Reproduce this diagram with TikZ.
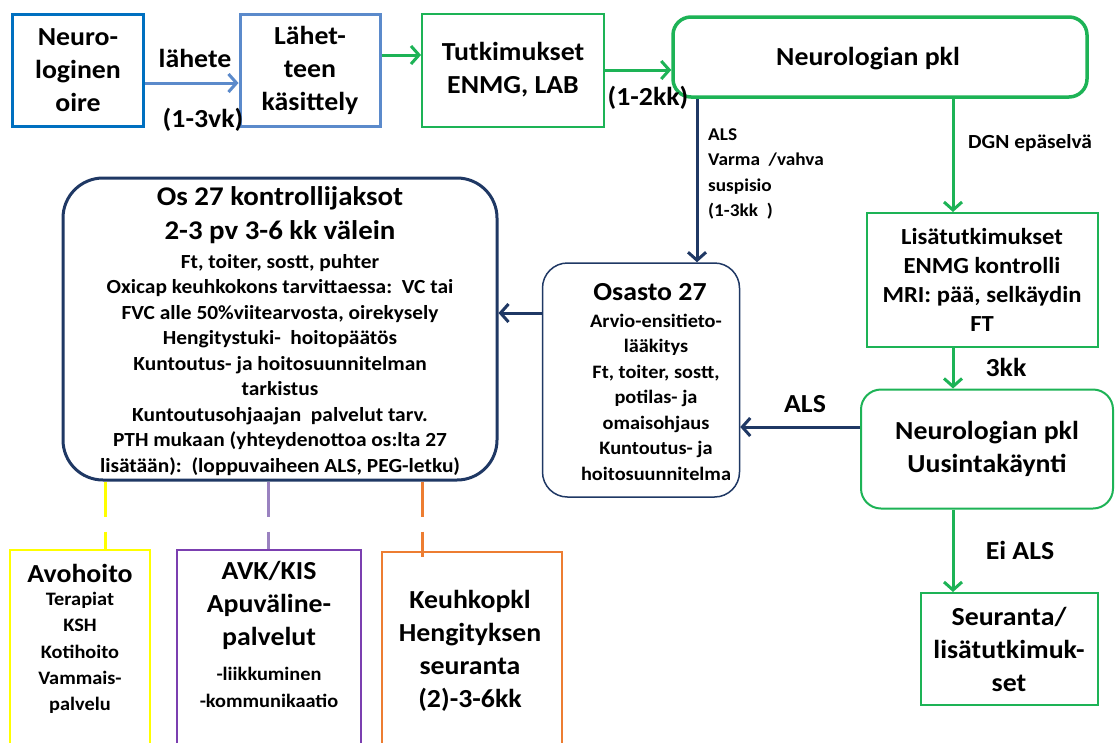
\documentclass[tikz,border=0pt]{standalone}
\usepackage{fontspec}
\setmainfont{Carlito}[FakeStretch=1.07]
\usetikzlibrary{arrows.meta}
\definecolor{cblueA}{HTML}{0070C0}
\definecolor{cblueB}{HTML}{5B8ACB}
\definecolor{cgreen}{HTML}{1DB356}
\definecolor{cnavy}{HTML}{1F3864}
\definecolor{cyel}{HTML}{FFFF00}
\definecolor{cpurp}{HTML}{7B3FB0}
\definecolor{cpurpl}{HTML}{9A82C0}
\definecolor{corange}{HTML}{ED7D31}
\newcommand{\myBig}{\bfseries\fontsize{26}{33}\selectfont}
\newcommand{\myMid}{\bfseries\fontsize{23}{29}\selectfont}
\newcommand{\mySmall}{\bfseries\fontsize{20}{25.5}\selectfont}
\begin{document}
\begin{tikzpicture}[x=1pt,y=-1pt,
  box/.style={draw, align=center, inner sep=0pt, text=black},
  txt/.style={align=center, inner sep=0pt, text=black},
  arr/.style={line width=3pt, -{Straight Barb[length=8pt,width=18pt]}},
  dsh/.style={line width=3pt, dash pattern=on 35pt off 15pt}]
\fill[white] (0,0) rectangle (1115,742);
\clip (0,0) rectangle (1115,742);
% top row
\node[box, draw=cblueA, line width=3pt, minimum width=131pt, minimum height=112pt, font=\myBig] (n1) at (78,70) {Neuro-\\loginen\\oire};
\node[box, draw=cblueB, line width=3pt, minimum width=140pt, minimum height=112pt, font=\myBig] (n2) at (310,70) {Lähet-\\teen\\käsittely};
\node[box, draw=cgreen, line width=2pt, minimum width=182pt, minimum height=113pt, font=\myBig] (n3) at (513,70) {Tutkimukset\\ENMG, LAB};
\node[box, draw=cgreen, line width=3.5pt, rounded corners=18pt, minimum width=414pt, minimum height=80pt] (n4) at (880,57) {};
\node[txt, font=\myBig] (n4t) at (868,59) {Neurologian pkl};
% right column
\node[box, draw=cgreen, line width=2pt, minimum width=231pt, minimum height=134pt, font=\myMid] (n5) at (982,280) {Lisätutkimukset\\ENMG kontrolli\\MRI: pää, selkäydin\\FT};
\node[box, draw=cgreen, line width=2pt, rounded corners=20pt, minimum width=252pt, minimum height=119pt, font=\myBig] (n6) at (987,449) {Neurologian pkl\\Uusintakäynti};
\node[box, draw=cgreen, line width=2pt, minimum width=177pt, minimum height=112pt, font=\myBig] (n7) at (1009,649) {Seuranta/\\lisätutkimuk-\\set};
% Osasto 27
\node[box, draw=cnavy, line width=1.5pt, rounded corners=25pt, minimum width=197pt, minimum height=234pt] (n8) at (641,380) {};
\node[txt, font=\myBig] (n8a) at (650,292) {Osasto 27};
\node[txt, font=\bfseries\fontsize{19}{25.5}\selectfont] (n8b) at (656,397) {Arvio-ensitieto-\\lääkitys\\Ft, toiter, sostt,\\potilas- ja\\omaisohjaus\\Kuntoutus- ja\\hoitosuunnitelma};
% Os 27 kontrollijaksot
\node[box, draw=cnavy, line width=3pt, rounded corners=40pt, minimum width=434pt, minimum height=302pt] (n9) at (280,329) {};
\node[txt, font=\bfseries\fontsize{27}{34}\selectfont] (n9a) at (280,215) {Os 27 kontrollijaksot\\2-3 pv 3-6 kk välein};
\node[txt, font=\mySmall] (n9b) at (280,365) {Ft, toiter, sostt, puhter\\Oxicap keuhkokons tarvittaessa:\ \ VC tai\\FVC alle 50\%viitearvosta,\ oirekysely\\Hengitystuki-\ \ hoitopäätös\\Kuntoutus- ja hoitosuunnitelman\\tarkistus\\Kuntoutusohjaajan\ \ palvelut tarv.\\PTH mukaan\ (yhteydenottoa os:lta 27\\lisätään):\ \ (loppuvaiheen ALS, PEG-letku)};
% bottom boxes
\node[box, draw=cyel, line width=2pt, minimum width=140pt, minimum height=200pt] (n10) at (80,650) {};
\node[txt, font=\myBig] (n10a) at (80,573) {Avohoito};
\node[txt, font=\bfseries\fontsize{19}{26.2}\selectfont] (n10b) at (80,653) {Terapiat\\KSH\\Kotihoito\\Vammais-\\palvelu};
\node[box, draw=cpurp, line width=2pt, minimum width=184pt, minimum height=200pt] (n11) at (269,650) {};
\node[txt, font=\myBig] (n11a) at (269,605) {AVK/KIS\\Apuväline-\\palvelut};
\node[txt, font=\bfseries\fontsize{19}{27}\selectfont] (n11b) at (269,687) {-liikkuminen\\-kommunikaatio};
\node[box, draw=corange, line width=2pt, minimum width=180pt, minimum height=200pt] (n12) at (472,652) {};
\node[txt, font=\myBig] (n12a) at (470,651) {Keuhkopkl\\Hengityksen\\seuranta\\(2)-3-6kk};
% helper coordinates
\coordinate (h55) at (0,55);
\coordinate (h70) at (0,70);
\coordinate (h83) at (0,83);
\coordinate (h313) at (0,313);
\coordinate (h427) at (0,427);
\coordinate (v697) at (697,0);
\coordinate (v953) at (953,0);
\coordinate (v105) at (105,0);
\coordinate (v268) at (268,0);
\coordinate (v422) at (422,0);
% connectors
\draw[arr, cblueB] (n1.east |- h83) -- (n2.west |- h83);
\draw[arr, cgreen] (n2.east |- h55) -- (n3.west |- h55);
\draw[arr, cgreen] (n3.east |- h70) -- (n4.west |- h70);
\draw[arr, cnavy] (n4.south -| v697) -- (n8.north -| v697);
\draw[arr, cgreen] (n4.south -| v953) -- (n5.north -| v953);
\draw[arr, cgreen] (n5.south -| v953) -- (n6.north -| v953);
\draw[arr, cgreen] (n6.south -| v953) -- (n7.north -| v953);
\draw[arr, cnavy] (n6.west |- h427) -- (n8.east |- h427);
\draw[arr, cnavy] (n8.west |- h313) -- (n9.east |- h313);
\draw[dsh, cyel] (n9.south -| v105) -- (n10.north -| v105);
\draw[dsh, cpurpl] (n9.south -| v268) -- (n11.north -| v268);
\draw[dsh, corange] (n9.south -| v422) -- ([yshift=-6pt]n12.north -| v422);
% labels
\node[txt, font=\myBig] (l1) at (195,58) {lähete};
\node[txt, font=\myBig] (l2) at (203,120) {(1-3vk)};
\node[txt, font=\myBig] (l3) at (648,98) {(1-2kk)};
\node[txt, font=\bfseries\fontsize{18}{25.5}\selectfont, align=left, anchor=north west] (l4) at (708,128) {ALS\\Varma\ \ /vahva\\suspisio\\(1-3kk\ \ )};
\node[txt, font=\bfseries\fontsize{20}{25}\selectfont, anchor=west] (l5) at (968,143) {DGN epäselvä};
\node[txt, font=\myBig] (l6) at (1006,367) {3kk};
\node[txt, font=\myBig] (l7) at (805,404) {ALS};
\node[txt, font=\myBig] (l8) at (1020,550) {Ei ALS};
\end{tikzpicture}
\end{document}
